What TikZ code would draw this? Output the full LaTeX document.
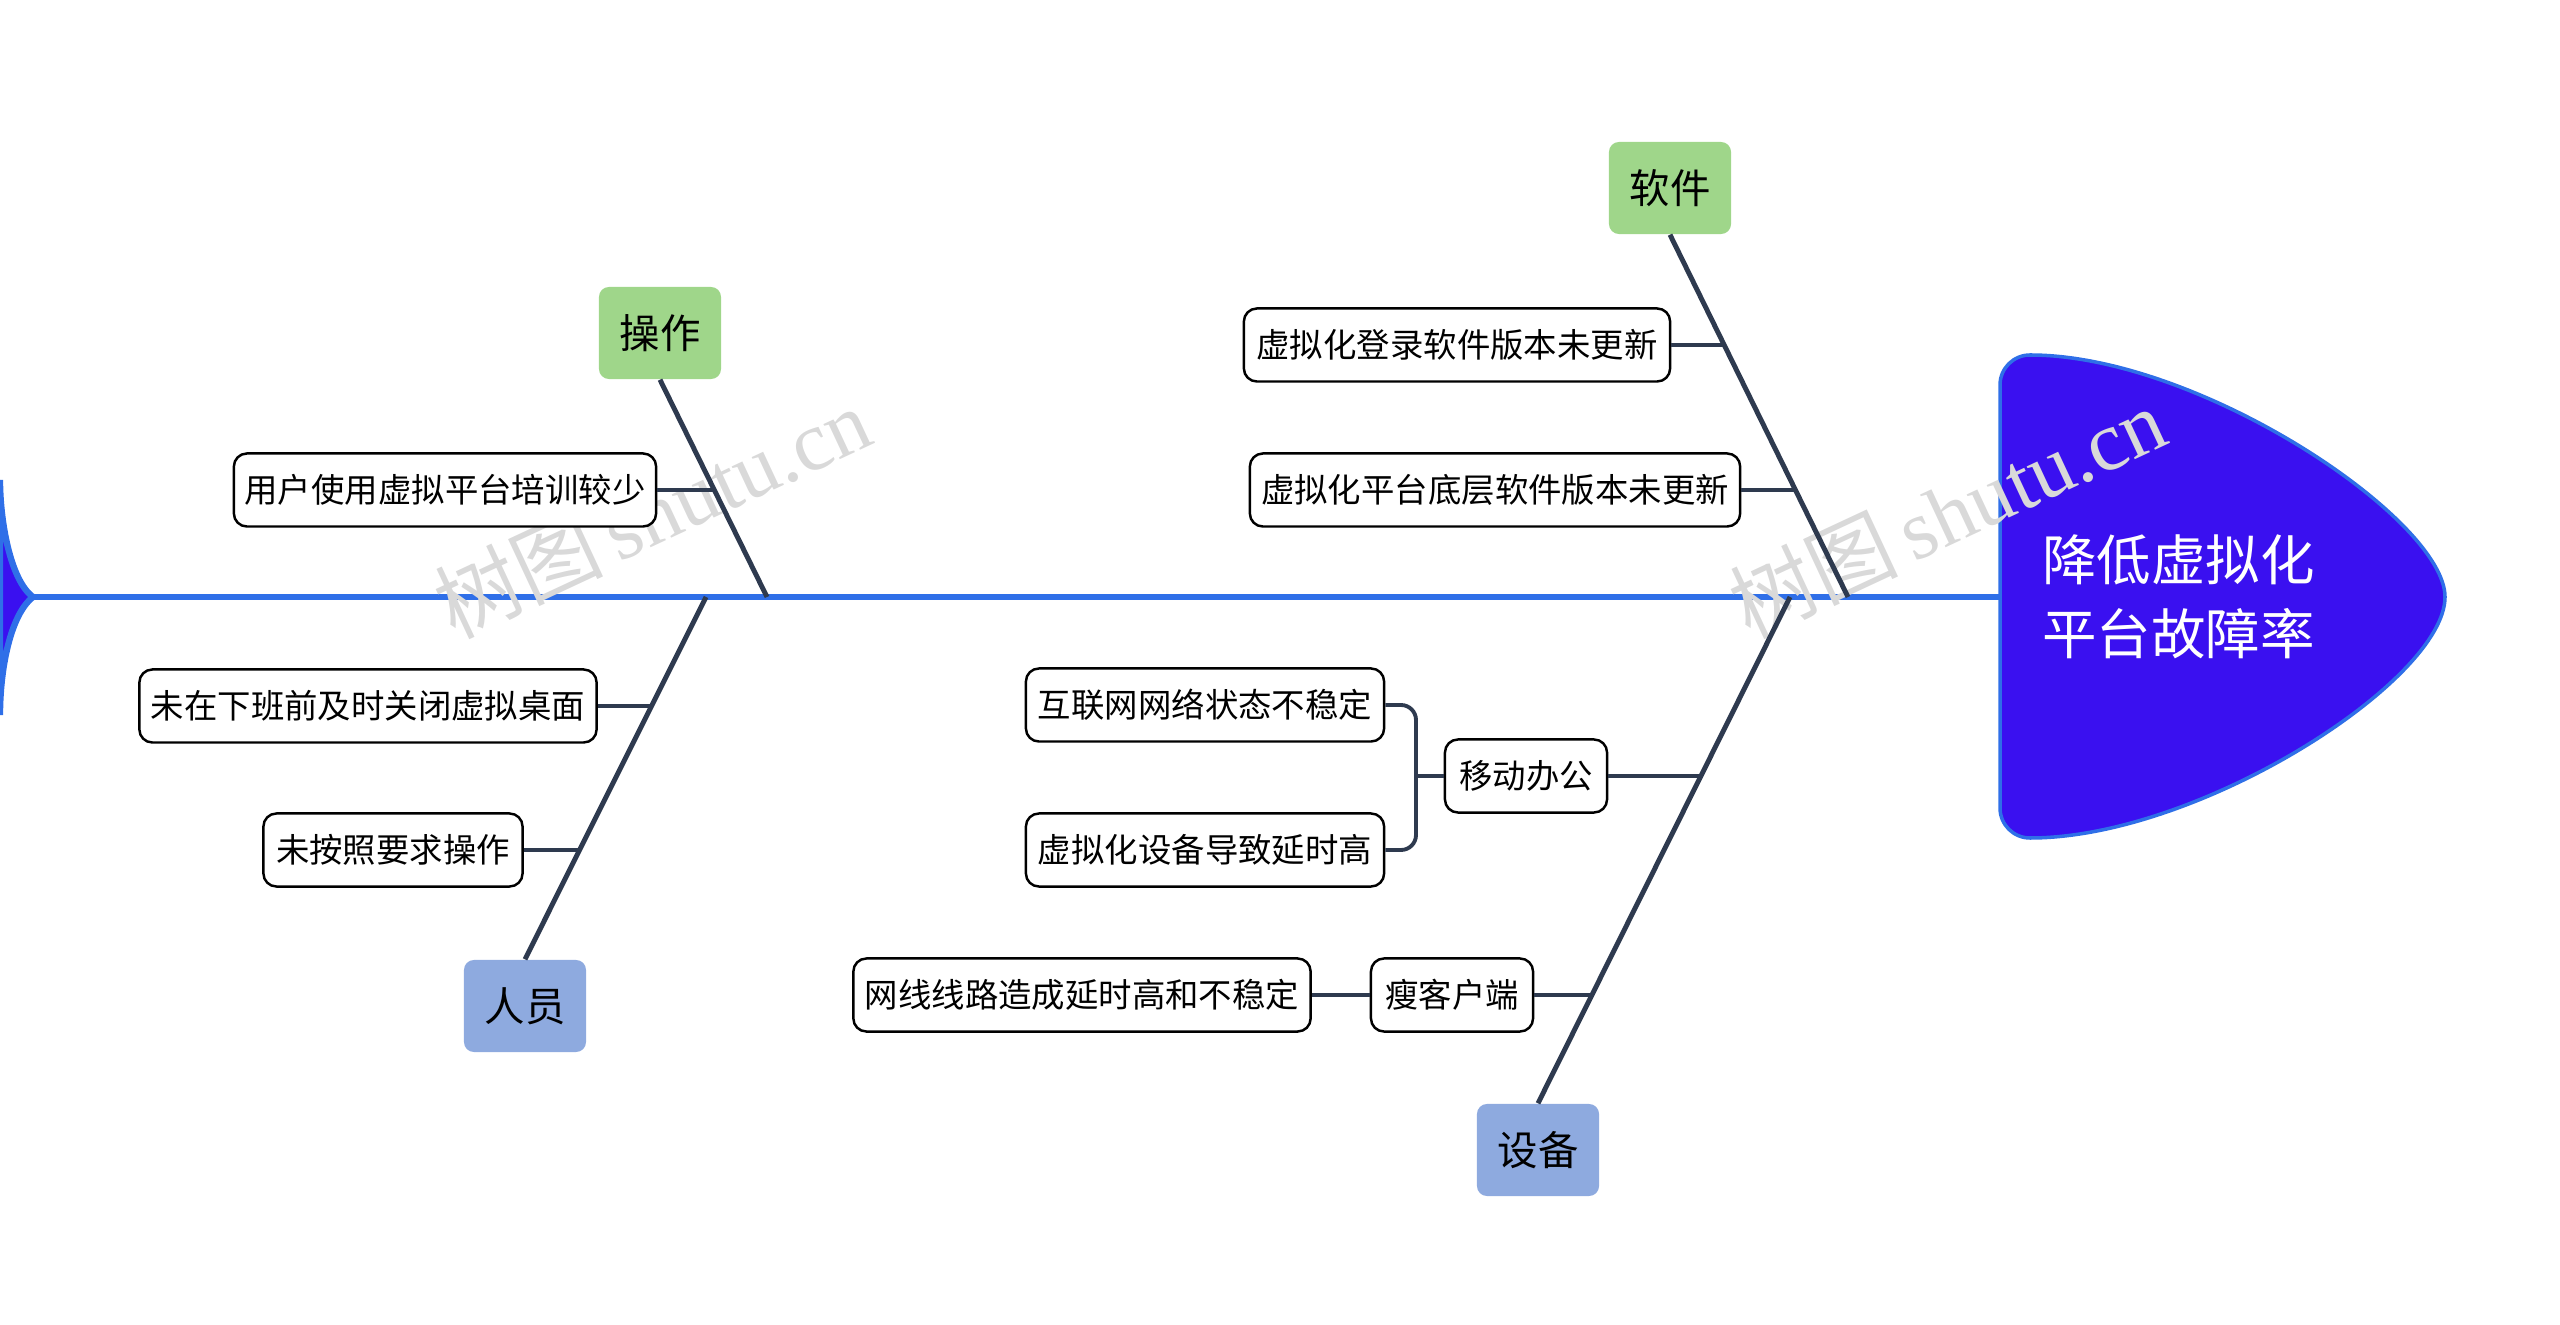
\documentclass[tikz,border=0pt]{standalone}
\usepackage{fontspec}
\setmainfont{Noto Sans CJK SC}
\newfontfamily\wmserif{Liberation Serif}
\begin{document}
\begin{tikzpicture}[x=0.01cm,y=-0.01cm,
  item/.style={draw=black,line width=0.7pt,rounded corners=0.13cm,fill=white,minimum height=0.73cm,inner sep=0pt,font=\fontsize{9.5}{11}\selectfont},
  cat/.style={rounded corners=0.1cm,minimum width=1.22cm,minimum height=0.92cm,inner sep=0pt,font=\fontsize{11.5}{13}\selectfont},
  wm/.style={text=black!15,font=\fontsize{24}{26}\selectfont,rotate=25}]
\useasboundingbox (0,0) rectangle (2560,1325);
\definecolor{spine}{HTML}{2F6FE8}
\definecolor{headc}{HTML}{3A10F0}
\definecolor{gcat}{HTML}{9FD68A}
\definecolor{bcat}{HTML}{8EAADF}
\definecolor{bonec}{HTML}{2E3A4F}
\tikzset{bone/.style={draw=bonec,line width=1.4pt},twig/.style={draw=bonec,line width=1.1pt}}
% tail
\fill[headc,draw=spine,line width=1.8pt] (33,597) .. controls (10,580) and (0,520) .. (0,480) -- (0,715) .. controls (0,670) and (10,615) .. (33,597);
% spine
\coordinate (tail) at (33,597);
\coordinate (headL) at (2000,597);
\draw[spine,line width=1.9pt] (tail) -- (headL);
% head
\draw[fill=headc,draw=spine,line width=1pt] (2000,385) to[out=90,in=180] (2030,355) .. controls (2200,355) and (2445,520) .. (2445,597) .. controls (2445,680) and (2200,838) .. (2030,838) to[out=180,in=-90] (2000,808) -- cycle;
\node[text=white,align=left,font=\fontsize{15.5}{21}\selectfont,anchor=west] (head) at (2030,597) {降低虚拟化\\平台故障率};
% watermarks
\node[wm] (wm1) at (652,512) {树图\,{\wmserif shutu.cn}};
\node[wm] (wm2) at (1947,512) {树图\,{\wmserif shutu.cn}};
% categories
\node[cat,fill=gcat] (op) at (660,333) {操作};
\node[cat,fill=bcat] (pe) at (525,1006) {人员};
\node[cat,fill=gcat] (sw) at (1670,188) {软件};
\node[cat,fill=bcat] (eq) at (1538,1150) {设备};
\coordinate (opS) at (767,597);
\coordinate (peS) at (706,597);
\coordinate (swS) at (1848,597);
\coordinate (eqS) at (1790,597);
\draw[bone] (op.south) -- (opS);
\draw[bone] (pe.north) -- (peS);
\draw[bone] (sw.south) -- (swS);
\draw[bone] (eq.north) -- (eqS);
% items
\node[item,minimum width=4.22cm] (a1) at (445,490) {用户使用虚拟平台培训较少};
\node[item,minimum width=4.57cm] (b1) at (368,706) {未在下班前及时关闭虚拟桌面};
\node[item,minimum width=2.59cm] (b2) at (393,850) {未按照要求操作};
\node[item,minimum width=4.26cm] (c1) at (1457,345) {虚拟化登录软件版本未更新};
\node[item,minimum width=4.90cm] (c2) at (1495,490) {虚拟化平台底层软件版本未更新};
\node[item,minimum width=1.62cm] (d1) at (1526,776) {移动办公};
\node[item,minimum width=3.58cm] (d11) at (1205,705) {互联网网络状态不稳定};
\node[item,minimum width=3.58cm] (d12) at (1205,850) {虚拟化设备导致延时高};
\node[item,minimum width=1.62cm] (d2) at (1452,995) {瘦客户端};
\node[item,minimum width=4.57cm] (d21) at (1082,995) {网线线路造成延时高和不稳定};
\coordinate (ja1) at (713,490);
\coordinate (jb1) at (651,706);
\coordinate (jb2) at (579,850);
\coordinate (jc1) at (1723,345);
\coordinate (jc2) at (1795,490);
\coordinate (jd1) at (1701,776);
\coordinate (jd2) at (1591,995);
\draw[twig] (a1.east) -- (ja1);
\draw[twig] (b1.east) -- (jb1);
\draw[twig] (b2.east) -- (jb2);
\draw[twig] (c1.east) -- (jc1);
\draw[twig] (c2.east) -- (jc2);
\draw[twig] (d1.east) -- (jd1);
\draw[twig] (d2.east) -- (jd2);
\draw[twig] (d21.east) -- (d2.west);
\coordinate (br) at (1416,776);
\draw[twig] (d1.west) -- (br);
\draw[twig,rounded corners=0.15cm] (d11.east) -| (br) |- (d12.east);
\end{tikzpicture}
\end{document}
